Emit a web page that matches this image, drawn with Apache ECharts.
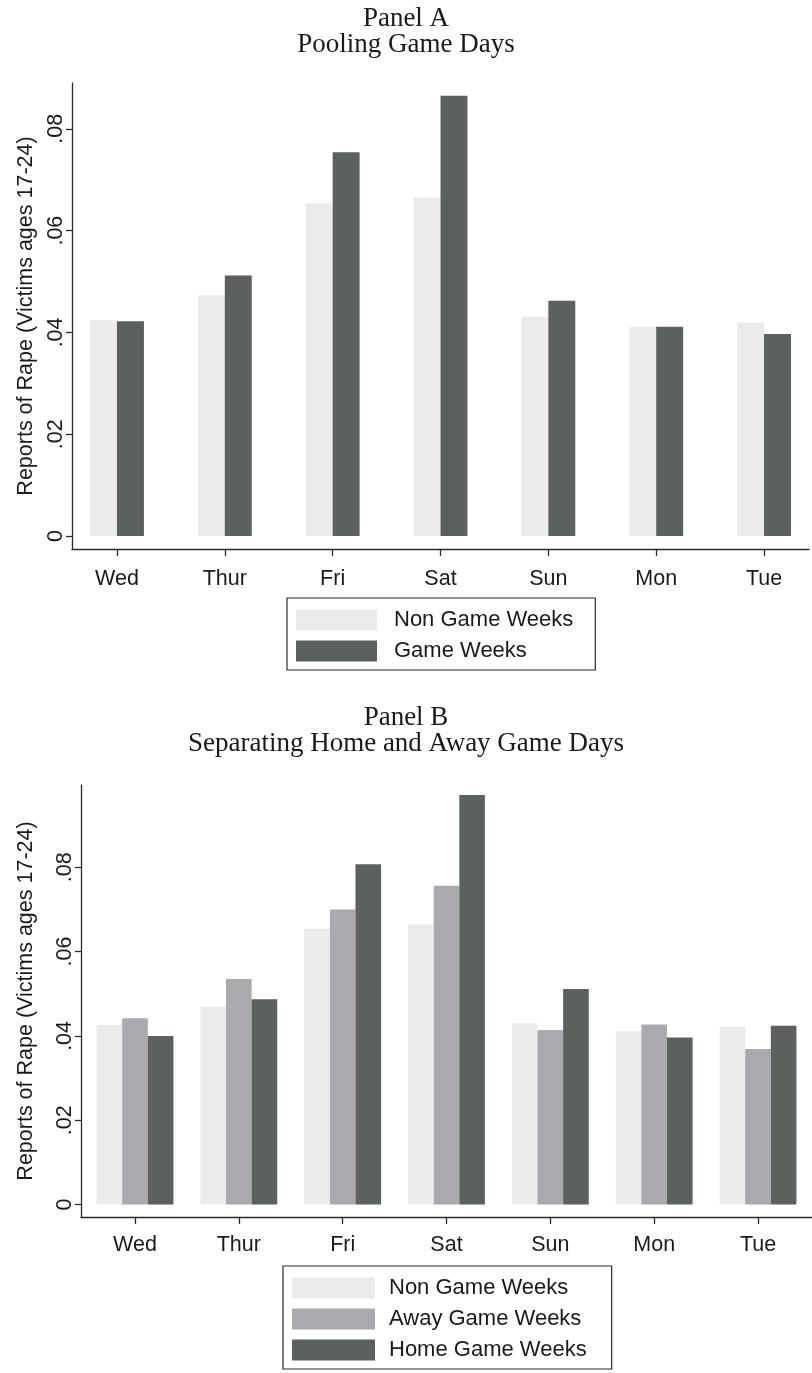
<!DOCTYPE html>
<html><head><meta charset="utf-8">
<script src="https://cdn.jsdelivr.net/npm/echarts@6/dist/echarts.min.js"></script>
<style>html,body{margin:0;padding:0;background:#fff}#c{width:812px;height:1373px}</style>
</head><body><div id="c"></div>
<script>
const days = ['Wed','Thur','Fri','Sat','Sun','Mon','Tue'];
const yTicks = [0, 0.02, 0.04, 0.06, 0.08];
const titleA = 'Panel A\nPooling Game Days';
const titleB = 'Panel B\nSeparating Home and Away Game Days';
const yName = 'Reports of Rape (Victims ages 17-24)';
const seriesNamesA = ['Non Game Weeks', 'Game Weeks'];
const seriesNamesB = ['Non Game Weeks', 'Away Game Weeks', 'Home Game Weeks'];
const nonGameA = [0.0424, 0.0473, 0.0654, 0.0665, 0.0431, 0.0411, 0.0419];
const gameA    = [0.0422, 0.0512, 0.0754, 0.0865, 0.0462, 0.0411, 0.0397];
const nonGameB = [0.0426, 0.0469, 0.0654, 0.0665, 0.0430, 0.0411, 0.0422];
const awayB    = [0.0442, 0.0535, 0.0700, 0.0756, 0.0414, 0.0427, 0.0369];
const homeB    = [0.0400, 0.0487, 0.0807, 0.0971, 0.0511, 0.0396, 0.0424];

const SANS = 'Liberation Sans';
const SERIF = 'Liberation Serif';
const INK = '#1a1a1a';
const LIGHT = '#ebebeb', MID = '#aaa9ad', DARK = '#5d615e';
const lineStyle = {color: '#2a2a2a', width: 1.3};
const dayIdx = days.map((d, i) => i);
const pairs = arr => arr.map((v, i) => [i, v]);
const fmtY = v => v === 0 ? '0' : String(+v.toFixed(2)).replace(/^0\./, '.');

function xAxis(gridIndex, min, max, margin) {
  return {
    type: 'value', gridIndex, min, max,
    axisLine: {show: true, onZero: false, lineStyle},
    axisTick: {show: true, length: 7, customValues: dayIdx, lineStyle},
    axisLabel: {customValues: dayIdx, formatter: v => days[Math.round(v)], margin,
      fontFamily: SANS, fontSize: 21.5, color: INK},
    splitLine: {show: false}
  };
}
function yAxis(gridIndex, min, max, nameGap) {
  return {
    type: 'value', gridIndex, min, max,
    name: yName, nameLocation: 'middle', nameRotate: 90, nameGap,
    nameTextStyle: {fontFamily: SANS, fontSize: 21.5, color: INK},
    axisLine: {show: true, onZero: false, lineStyle},
    axisTick: {show: true, length: 6, customValues: yTicks, lineStyle},
    axisLabel: {customValues: yTicks, formatter: fmtY, rotate: 90, margin: 5,
      fontFamily: SANS, fontSize: 21.5, color: INK},
    splitLine: {show: false}
  };
}
function bar(name, data, axis, color, gap) {
  return {type: 'bar', name, data: pairs(data), xAxisIndex: axis, yAxisIndex: axis,
    barGap: '0%', barCategoryGap: gap, itemStyle: {color}, silent: true, animation: false};
}
function legend(names, left, top, itemWidth, textPad, padRight) {
  return {
    data: names, orient: 'vertical', left, top, itemWidth, itemHeight: 21, itemGap: 9,
    icon: 'rect', selectedMode: false, borderColor: '#2a2a2a', borderWidth: 1.2,
    padding: [11, padRight, 8, 9],
    textStyle: {fontFamily: SANS, fontSize: 22, color: INK, padding: [0, 0, 0, textPad]}
  };
}

const chart = echarts.init(document.getElementById('c'), null, {renderer: 'canvas'});
chart.setOption({
  backgroundColor: '#fff',
  animation: false,
  title: [
    {text: titleA, left: 'center', top: 6, padding: 0,
      textStyle: {fontFamily: SERIF, fontSize: 27, fontWeight: 'normal', lineHeight: 26, color: INK}},
    {text: titleB, left: 'center', top: 705, padding: 0,
      textStyle: {fontFamily: SERIF, fontSize: 27, fontWeight: 'normal', lineHeight: 26, color: INK}}
  ],
  grid: [
    {left: 72, right: 3, top: 83, height: 466},
    {left: 81, right: 0, top: 785, height: 432}
  ],
  xAxis: [xAxis(0, -0.417, 6.417, 19), xAxis(1, -0.52, 6.52, 17)],
  yAxis: [yAxis(0, -0.00255, 0.0890, 35), yAxis(1, -0.00294, 0.0995, 44)],
  legend: [
    legend(seriesNamesA, 287, 598, 81, 12, 22),
    legend(seriesNamesB, 283, 1266, 83, 9, 25)
  ],
  series: [
    bar(seriesNamesA[0], nonGameA, 0, LIGHT, '50%'),
    bar(seriesNamesA[1], gameA, 0, DARK, '50%'),
    bar(seriesNamesB[0], nonGameB, 1, LIGHT, '26%'),
    bar(seriesNamesB[1], awayB, 1, MID, '26%'),
    bar(seriesNamesB[2], homeB, 1, DARK, '26%')
  ]
});
</script></body></html>
